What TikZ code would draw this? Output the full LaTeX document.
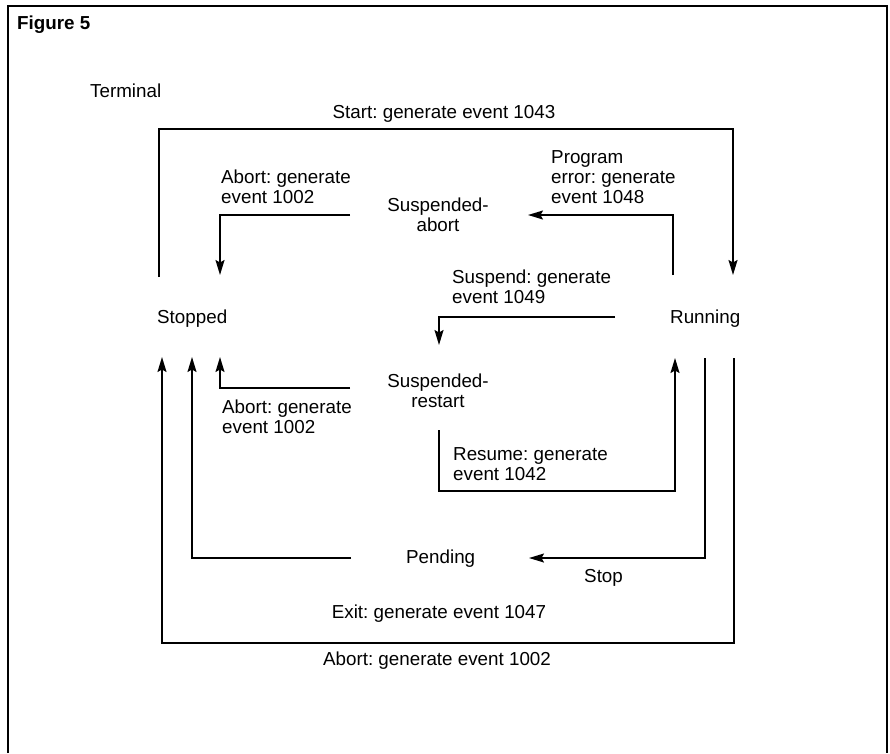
\documentclass[tikz,border=0pt]{standalone}
\usepackage{fontspec}
\setmainfont{Liberation Sans}
\usetikzlibrary{arrows.meta}
\frenchspacing
\newcommand\diagfont{\fontsize{18.8}{20}\selectfont}
\newcommand\lines[2][l]{\begin{tabular}[t]{@{}#1@{}}#2\end{tabular}}
\begin{document}
\begin{tikzpicture}[x=1pt,y=-1pt,
  lbl/.style={anchor=base west,inner sep=0pt,font=\diagfont},
  ctr/.style={anchor=base,inner sep=0pt,font=\diagfont},
  conn/.style={line width=1.6pt,line join=miter},
  arr/.style={conn,-{Stealth[length=15pt,width=9pt,inset=2.5pt]}},
  frame/.style={line width=2pt}]
\useasboundingbox (0,0) rectangle (890,753);
\draw[frame] (8,753) -- (8,6) -- (887,6) -- (887,753);

% labels and states
\node[lbl,font=\diagfont\bfseries] (fig) at (17,29.5) {Figure 5};
\node[lbl] (term) at (90,97) {Terminal};
\node[ctr] (lstart) at (444,118) {Start: generate event 1043};
\node[lbl] (labtop) at (221,183) {\lines{Abort: generate\\event 1002}};
\node[ctr] (susabort) at (438,211) {\lines[c]{Suspended-\\abort}};
\node[lbl] (lprog) at (551,163) {\lines{Program\\error: generate\\event 1048}};
\node[lbl] (lsusp) at (452,283) {\lines{Suspend: generate\\event 1049}};
\node[lbl] (stopped) at (157,323) {Stopped};
\node[lbl] (running) at (670,323) {Running};
\node[ctr] (susrestart) at (438,387) {\lines[c]{Suspended-\\restart}};
\node[lbl] (labmid) at (222,413) {\lines{Abort: generate\\event 1002}};
\node[lbl] (lres) at (453,460) {\lines{Resume: generate\\event 1042}};
\node[lbl] (pending) at (406,563) {Pending};
\node[lbl] (lstop) at (584,582) {Stop};
\node[ctr] (lexit) at (439,618) {Exit: generate event 1047};
\node[ctr] (labbot) at (437,665) {Abort: generate event 1002};

% connector end points
\coordinate (stopN1) at (159,277);
\coordinate (runN1) at (733,275);
\coordinate (saW) at (350,215);
\coordinate (stopN2) at (220,275);
\coordinate (runN2) at (673,275);
\coordinate (saE) at (528,215);
\coordinate (runW) at (615,317);
\coordinate (srN) at (439,345);
\coordinate (srW) at (350,388);
\coordinate (stopS3) at (220,357);
\coordinate (srS) at (439,430);
\coordinate (runS1) at (675,358);
\coordinate (runS2) at (705,358);
\coordinate (pendE) at (529,558);
\coordinate (pendW) at (351,558);
\coordinate (stopS2) at (192,357);
\coordinate (runS3) at (734,358);
\coordinate (stopS1) at (162,357);

% connectors
\draw[arr] (stopN1) |- (446,129) -| (runN1);
\draw[arr] (saW) -| (stopN2);
\draw[arr] (runN2) |- (saE);
\draw[arr] (runW) -| (srN);
\draw[arr] (srW) -| (stopS3);
\draw[arr] (srS) |- (560,491) -| (runS1);
\draw[arr] (runS2) |- (pendE);
\draw[arr] (pendW) -| (stopS2);
\draw[arr] (runS3) |- (450,643) -| (stopS1);
\end{tikzpicture}
\end{document}
